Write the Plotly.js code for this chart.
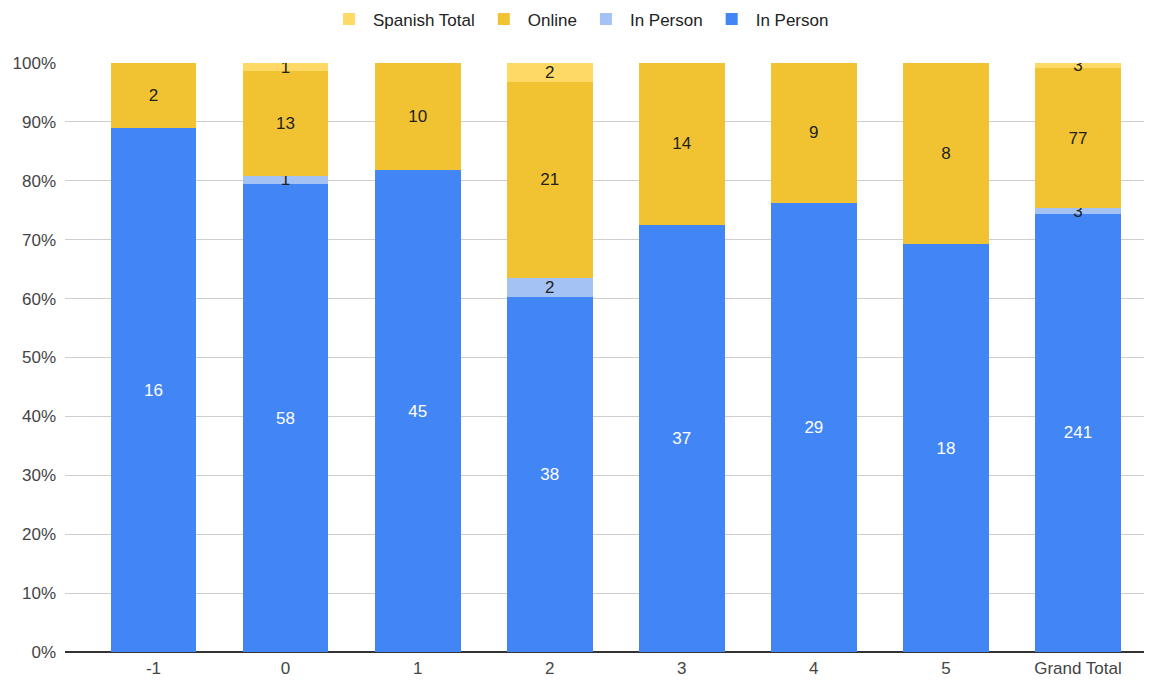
<!DOCTYPE html>
<html>
<head>
<meta charset="utf-8">
<script src="https://cdn.plot.ly/plotly-3.0.1.min.js"></script>
<style>
  html, body { margin: 0; padding: 0; background: #fff; }
  #chart { width: 1159px; height: 681px; }
</style>
</head>
<body>
<div id="chart"></div>
<script>
// Categories along the x axis
const categories = ['-1', '0', '1', '2', '3', '4', '5', 'Grand Total'];

// Counts per category for each series (stacked, normalised to 100%)
const inPersonMain = [16, 58, 45, 38, 37, 29, 18, 241];
const inPersonSecond = [0, 1, 0, 2, 0, 0, 0, 3];
const online = [2, 13, 10, 21, 14, 9, 8, 77];
const spanishTotal = [0, 1, 0, 2, 0, 0, 0, 3];

const FONT = '"Liberation Sans", Arial, sans-serif';

const labelOf = vals => vals.map(v => (v > 0 ? String(v) : ''));

function barTrace(name, vals, color, textColor) {
  return {
    type: 'bar',
    name: name,
    x: categories,
    y: vals,
    text: labelOf(vals),
    textposition: 'inside',
    insidetextanchor: 'middle',
    constraintext: 'none',
    textangle: 0,
    insidetextfont: { family: FONT, size: 17, color: textColor },
    marker: { color: color, line: { width: 0 } },
    hoverinfo: 'x+y+name'
  };
}

const traces = [
  barTrace('In Person', inPersonMain, '#4285F4', '#ffffff'),
  barTrace('In Person', inPersonSecond, '#A4C2F4', '#222222'),
  barTrace('Online', online, '#F1C232', '#222222'),
  barTrace('Spanish Total', spanishTotal, '#FFD966', '#222222')
];

const layout = {
  width: 1159,
  height: 681,
  margin: { l: 65, r: 15, t: 63, b: 29, autoexpand: false },
  paper_bgcolor: '#ffffff',
  plot_bgcolor: '#ffffff',
  barmode: 'stack',
  barnorm: 'percent',
  bargap: 0.35,
  font: { family: FONT, size: 17, color: '#444' },
  showlegend: true,
  legend: {
    orientation: 'h',
    traceorder: 'reversed',
    xref: 'container',
    yref: 'container',
    x: 0.5,
    xanchor: 'center',
    y: 0.998,
    yanchor: 'top',
    font: { family: FONT, size: 17, color: '#222' },
    itemwidth: 38
  },
  xaxis: {
    type: 'category',
    range: [-0.67, 7.5],
    showgrid: false,
    showline: false,
    ticks: '',
    ticklabelstandoff: 4,
    tickfont: { family: FONT, size: 17, color: '#444' },
    fixedrange: true
  },
  yaxis: {
    range: [0, 100],
    tickmode: 'array',
    tickvals: [0, 10, 20, 30, 40, 50, 60, 70, 80, 90, 100],
    ticktext: ['0%', '10%', '20%', '30%', '40%', '50%', '60%', '70%', '80%', '90%', '100%'],
    showgrid: true,
    gridcolor: '#cfcfcf',
    gridwidth: 1,
    zeroline: true,
    zerolinecolor: '#333333',
    zerolinewidth: 1.5,
    showline: false,
    ticks: '',
    ticklabelstandoff: 8,
    tickfont: { family: FONT, size: 17, color: '#444' },
    fixedrange: true
  }
};

Plotly.newPlot('chart', traces, layout, { displayModeBar: false, staticPlot: true });
</script>
</body>
</html>
